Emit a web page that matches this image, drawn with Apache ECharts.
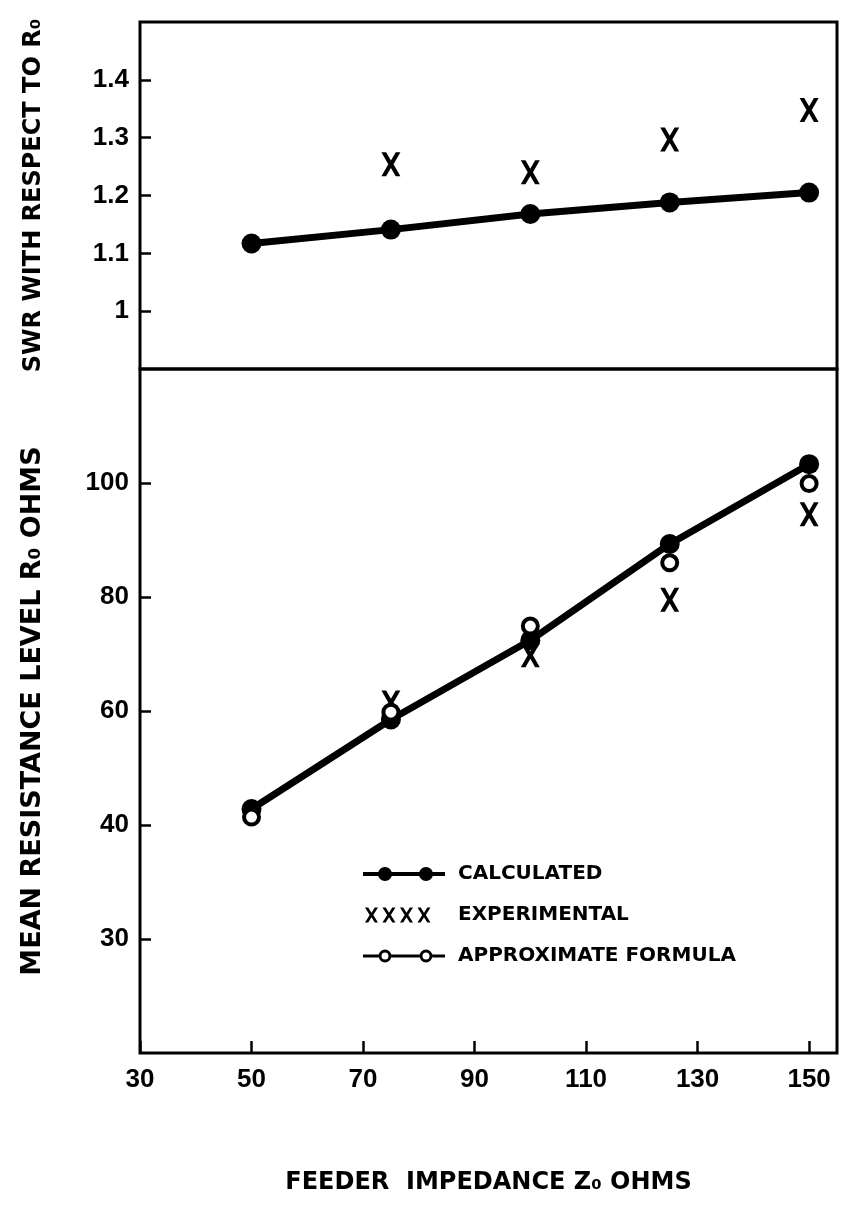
<!DOCTYPE html>
<html><head><meta charset="utf-8">
<script src="https://cdn.jsdelivr.net/npm/echarts@6/dist/echarts.min.js"></script>
<style>html,body{margin:0;padding:0;background:#fff}#c{width:844px;height:1209px}</style>
</head><body><div id="c"></div>
<script>
// ---- data ----
const feederImpedance = [50, 75, 100, 125, 150];
const experimentalImpedance = [75, 100, 125, 150];
const swrCalculated = [1.117, 1.141, 1.168, 1.188, 1.205];
const swrExperimental = [1.254, 1.24, 1.297, 1.348];
const resCalculated = [42.8, 58.5, 72.4, 89.3, 103.3];
const resExperimental = [61.5, 69.8, 79.5, 94.5];
const resApproximate = [41.4, 59.8, 74.9, 86.0, 99.9];
const xTickValues = [30, 50, 70, 90, 110, 130, 150];
const xTickLabels = ['30', '50', '70', '90', '110', '130', '150'];
const swrTickValues = [1, 1.1, 1.2, 1.3, 1.4];
const swrTickLabels = ['1', '1.1', '1.2', '1.3', '1.4'];
const resTickValues = [20, 40, 60, 80, 100];
const resTickLabels = ['30', '40', '60', '80', '100'];
const seriesNames = ['CALCULATED', 'EXPERIMENTAL', 'APPROXIMATE FORMULA'];

// ---- helpers ----
const pair = (xs, ys) => xs.map((x, i) => [x, ys[i]]);
const fmt = (vals, labels) => v => {
  const i = vals.findIndex(t => Math.abs(t - v) < 1e-6);
  return i >= 0 ? labels[i] : '';
};
const X_POLY = [[0,0],[3.2,0],[6.5,5.2],[9.8,0],[13,0],[8.3,7.5],[13,15],[9.8,15],[6.5,9.8],[3.2,15],[0,15],[4.7,7.5]];
const xPath = (dx, dy) => 'M' + X_POLY.map(p => (p[0]+dx).toFixed(2) + ',' + (p[1]+dy).toFixed(2)).join('L') + 'Z';
const corners = 'M0,0L0.1,0L0,0.1Z M90,18L89.9,18L90,17.9Z ';
const iconCalc = 'path://' + corners +
  'M0,7L82,7L82,11L0,11Z ' +
  'M15,9A7,7 0 1 1 29,9A7,7 0 1 1 15,9Z ' +
  'M56,9A7,7 0 1 1 70,9A7,7 0 1 1 56,9Z';
const iconExp = 'path://' + corners + [2, 19.5, 37, 54.5].map(dx => xPath(dx, 1.5)).join(' ');
const ring = cx => `M${cx-6.5},9A6.5,6.5 0 1 1 ${cx+6.5},9A6.5,6.5 0 1 1 ${cx-6.5},9Z M${cx-3.5},9A3.5,3.5 0 1 0 ${cx+3.5},9A3.5,3.5 0 1 0 ${cx-3.5},9Z `;
const iconApprox = 'path://' + corners +
  'M0,7.5L15.5,7.5L15.5,10.5L0,10.5Z M28.5,7.5L56.5,7.5L56.5,10.5L28.5,10.5Z M69.5,7.5L82,7.5L82,10.5L69.5,10.5Z ' +
  ring(22) + ring(63);
const xSymbol = 'path://' + xPath(0, 0);

const tickFont = { color: '#000', fontFamily: 'Liberation Sans', fontWeight: 'bold', fontSize: 26 };
const nameFont = { color: '#000', fontFamily: 'DejaVu Sans', fontWeight: 'bold' };

const chart = echarts.init(document.getElementById('c'), null, { renderer: 'canvas' });
chart.setOption({
  animation: false,
  backgroundColor: '#fff',
  grid: [
    { left: 140, right: 7, top: 22, height: 347, show: true, borderColor: '#000', borderWidth: 3, containLabel: false, outerBoundsMode: 'none' },
    { left: 140, right: 7, top: 369, height: 684, show: true, borderColor: '#000', borderWidth: 3, containLabel: false, outerBoundsMode: 'none' }
  ],
  xAxis: [
    { type: 'value', gridIndex: 0, min: 30, max: 155, axisLine: { show: false }, axisTick: { show: false }, axisLabel: { show: false }, splitLine: { show: false } },
    { type: 'value', gridIndex: 1, min: 30, max: 155, axisLine: { show: false },
      axisTick: { show: true, inside: true, length: 12, customValues: xTickValues, lineStyle: { color: '#000', width: 2.5 } },
      axisLabel: { customValues: xTickValues, formatter: fmt(xTickValues, xTickLabels), margin: 14, ...tickFont },
      splitLine: { show: false },
      name: 'FEEDER  IMPEDANCE Z\u2080 OHMS', nameLocation: 'middle', nameGap: 118,
      nameTextStyle: { ...nameFont, fontSize: 24 } }
  ],
  yAxis: [
    { type: 'value', gridIndex: 0, min: 0.9, max: 1.5, axisLine: { show: false },
      axisTick: { show: true, inside: true, length: 11, customValues: swrTickValues, lineStyle: { color: '#000', width: 2.5 } },
      axisLabel: { customValues: swrTickValues, formatter: fmt(swrTickValues, swrTickLabels), margin: 11, ...tickFont },
      splitLine: { show: false },
      name: 'SWR WITH RESPECT TO R\u2080', nameLocation: 'middle', nameGap: 94,
      nameTextStyle: { ...nameFont, fontSize: 24 } },
    { type: 'value', gridIndex: 1, min: 0, max: 120, axisLine: { show: false },
      axisTick: { show: true, inside: true, length: 11, customValues: resTickValues, lineStyle: { color: '#000', width: 2.5 } },
      axisLabel: { customValues: resTickValues, formatter: fmt(resTickValues, resTickLabels), margin: 11, ...tickFont },
      splitLine: { show: false },
      name: 'MEAN RESISTANCE LEVEL R\u2080 OHMS', nameLocation: 'middle', nameGap: 94,
      nameTextStyle: { ...nameFont, fontSize: 27 } }
  ],
  legend: {
    orient: 'vertical', left: 363, top: 864, padding: 0, itemWidth: 90, itemHeight: 18, itemGap: 21,
    selectedMode: false, symbolKeepAspect: false,
    itemStyle: { opacity: 1 },
    textStyle: { color: '#000', fontFamily: 'DejaVu Sans', fontWeight: 'bold', fontSize: 20 },
    data: [
      { name: seriesNames[0], icon: iconCalc, itemStyle: { color: '#000', borderWidth: 0, opacity: 1 } },
      { name: seriesNames[1], icon: iconExp, itemStyle: { color: '#000', borderWidth: 0, opacity: 1 } },
      { name: seriesNames[2], icon: iconApprox, itemStyle: { color: '#000', borderWidth: 0, opacity: 1 } }
    ]
  },
  series: [
    { name: seriesNames[0], type: 'line', xAxisIndex: 0, yAxisIndex: 0, data: pair(feederImpedance, swrCalculated),
      symbol: 'circle', symbolSize: 20, showSymbol: true, lineStyle: { color: '#000', width: 7 }, itemStyle: { color: '#000', opacity: 1 }, z: 3 },
    { name: seriesNames[1], type: 'scatter', xAxisIndex: 0, yAxisIndex: 0, data: pair(experimentalImpedance, swrExperimental),
      symbol: xSymbol, symbolSize: [19, 24], itemStyle: { color: '#000', opacity: 1 }, z: 4 },
    { name: seriesNames[0], type: 'line', xAxisIndex: 1, yAxisIndex: 1, data: pair(feederImpedance, resCalculated),
      symbol: 'circle', symbolSize: 20, showSymbol: true, lineStyle: { color: '#000', width: 7 }, itemStyle: { color: '#000', opacity: 1 }, z: 3 },
    { name: seriesNames[1], type: 'scatter', xAxisIndex: 1, yAxisIndex: 1, data: pair(experimentalImpedance, resExperimental),
      symbol: xSymbol, symbolSize: [19, 24], itemStyle: { color: '#000', opacity: 1 }, z: 4 },
    { name: seriesNames[2], type: 'scatter', xAxisIndex: 1, yAxisIndex: 1, data: pair(feederImpedance, resApproximate),
      symbol: 'circle', symbolSize: 15, itemStyle: { color: '#fff', borderColor: '#000', borderWidth: 4, opacity: 1 }, z: 5 }
  ]
});
</script>
</body></html>
